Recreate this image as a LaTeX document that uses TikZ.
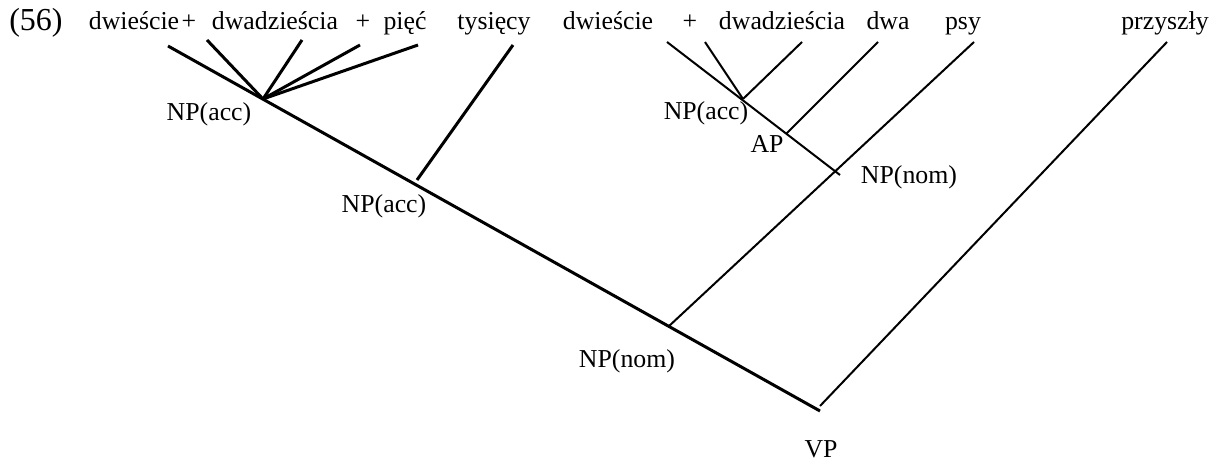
\documentclass[tikz,border=0pt]{standalone}
\usepackage{fontspec}
\setmainfont{Liberation Serif}

\begin{document}
\begin{tikzpicture}[x=0.5pt,y=-0.5pt,
    every node/.style={inner sep=0pt,font=\fontsize{12.9}{15}\selectfont},
    word/.style={anchor=base},
    heavy/.style={line width=1.5pt},
    light/.style={line width=1pt}]
    \useasboundingbox (0,0) rectangle (1224,464);

    % the words
    \node[word,font=\fontsize{16}{18}\selectfont] (ex) at (36,31) {(56)};
    \node[word] (w1) at (134,30) {dwieście};
    \node[word] (p1) at (189,30) {+};
    \node[word] (w2) at (275,30) {dwadzieścia};
    \node[word] (p2) at (363,30) {+};
    \node[word] (w3) at (405,30) {pięć};
    \node[word] (w4) at (494,30) {tysięcy};
    \node[word] (w5) at (608,30) {dwieście};
    \node[word] (p3) at (690,30) {+};
    \node[word] (w6) at (782,30) {dwadzieścia};
    \node[word] (w7) at (888,30) {dwa};
    \node[word] (w8) at (963,30) {psy};
    \node[word] (w9) at (1165,30) {przyszły};

    % tops of the branches
    \coordinate (t1) at (168,46);
    \coordinate (t2) at (207,40);
    \coordinate (t3) at (302,40);
    \coordinate (t4) at (360,45);
    \coordinate (t5) at (418,45);
    \coordinate (t6) at (513,45);
    \coordinate (t7) at (667,42);
    \coordinate (t8) at (705,42);
    \coordinate (t9) at (802,42);
    \coordinate (t10) at (878,42);
    \coordinate (t11) at (974,42);
    \coordinate (t12) at (1167,42);

    % branching points
    \coordinate (acc1) at (263,99);
    \coordinate (acc2) at (417,180);
    \coordinate (acc3) at (743,99);
    \coordinate (ap) at (786,134);
    \coordinate (nom1) at (840,175);
    \coordinate (nom2) at (668,327);
    \coordinate (vp) at (820,411);
    \coordinate (vp2) at (820,406);

    % labels
    \node (lacc1) at (209,114) {NP(acc)};
    \node (lacc2) at (384,206) {NP(acc)};
    \node (lacc3) at (706,113) {NP(acc)};
    \node (lap) at (767,144) {AP};
    \node (lnom1) at (909,177) {NP(nom)};
    \node (lnom2) at (627,361) {NP(nom)};
    \node (lvp) at (821,449) {VP};

    % left part
    \draw[heavy] (t1) -- (vp);
    \draw[heavy] (t2) -- (acc1);
    \draw[heavy] (t3) -- (acc1);
    \draw[heavy] (t4) -- (acc1);
    \draw[heavy] (t5) -- (acc1);
    \draw[heavy] (t6) -- (acc2);

    % right part
    \draw[light] (t7) -- (nom1);
    \draw[light] (t8) -- (acc3);
    \draw[light] (t9) -- (acc3);
    \draw[light] (t10) -- (ap);
    \draw[light] (t11) -- (nom2);
    \draw[light] (t12) -- (vp2);
\end{tikzpicture}
\end{document}
